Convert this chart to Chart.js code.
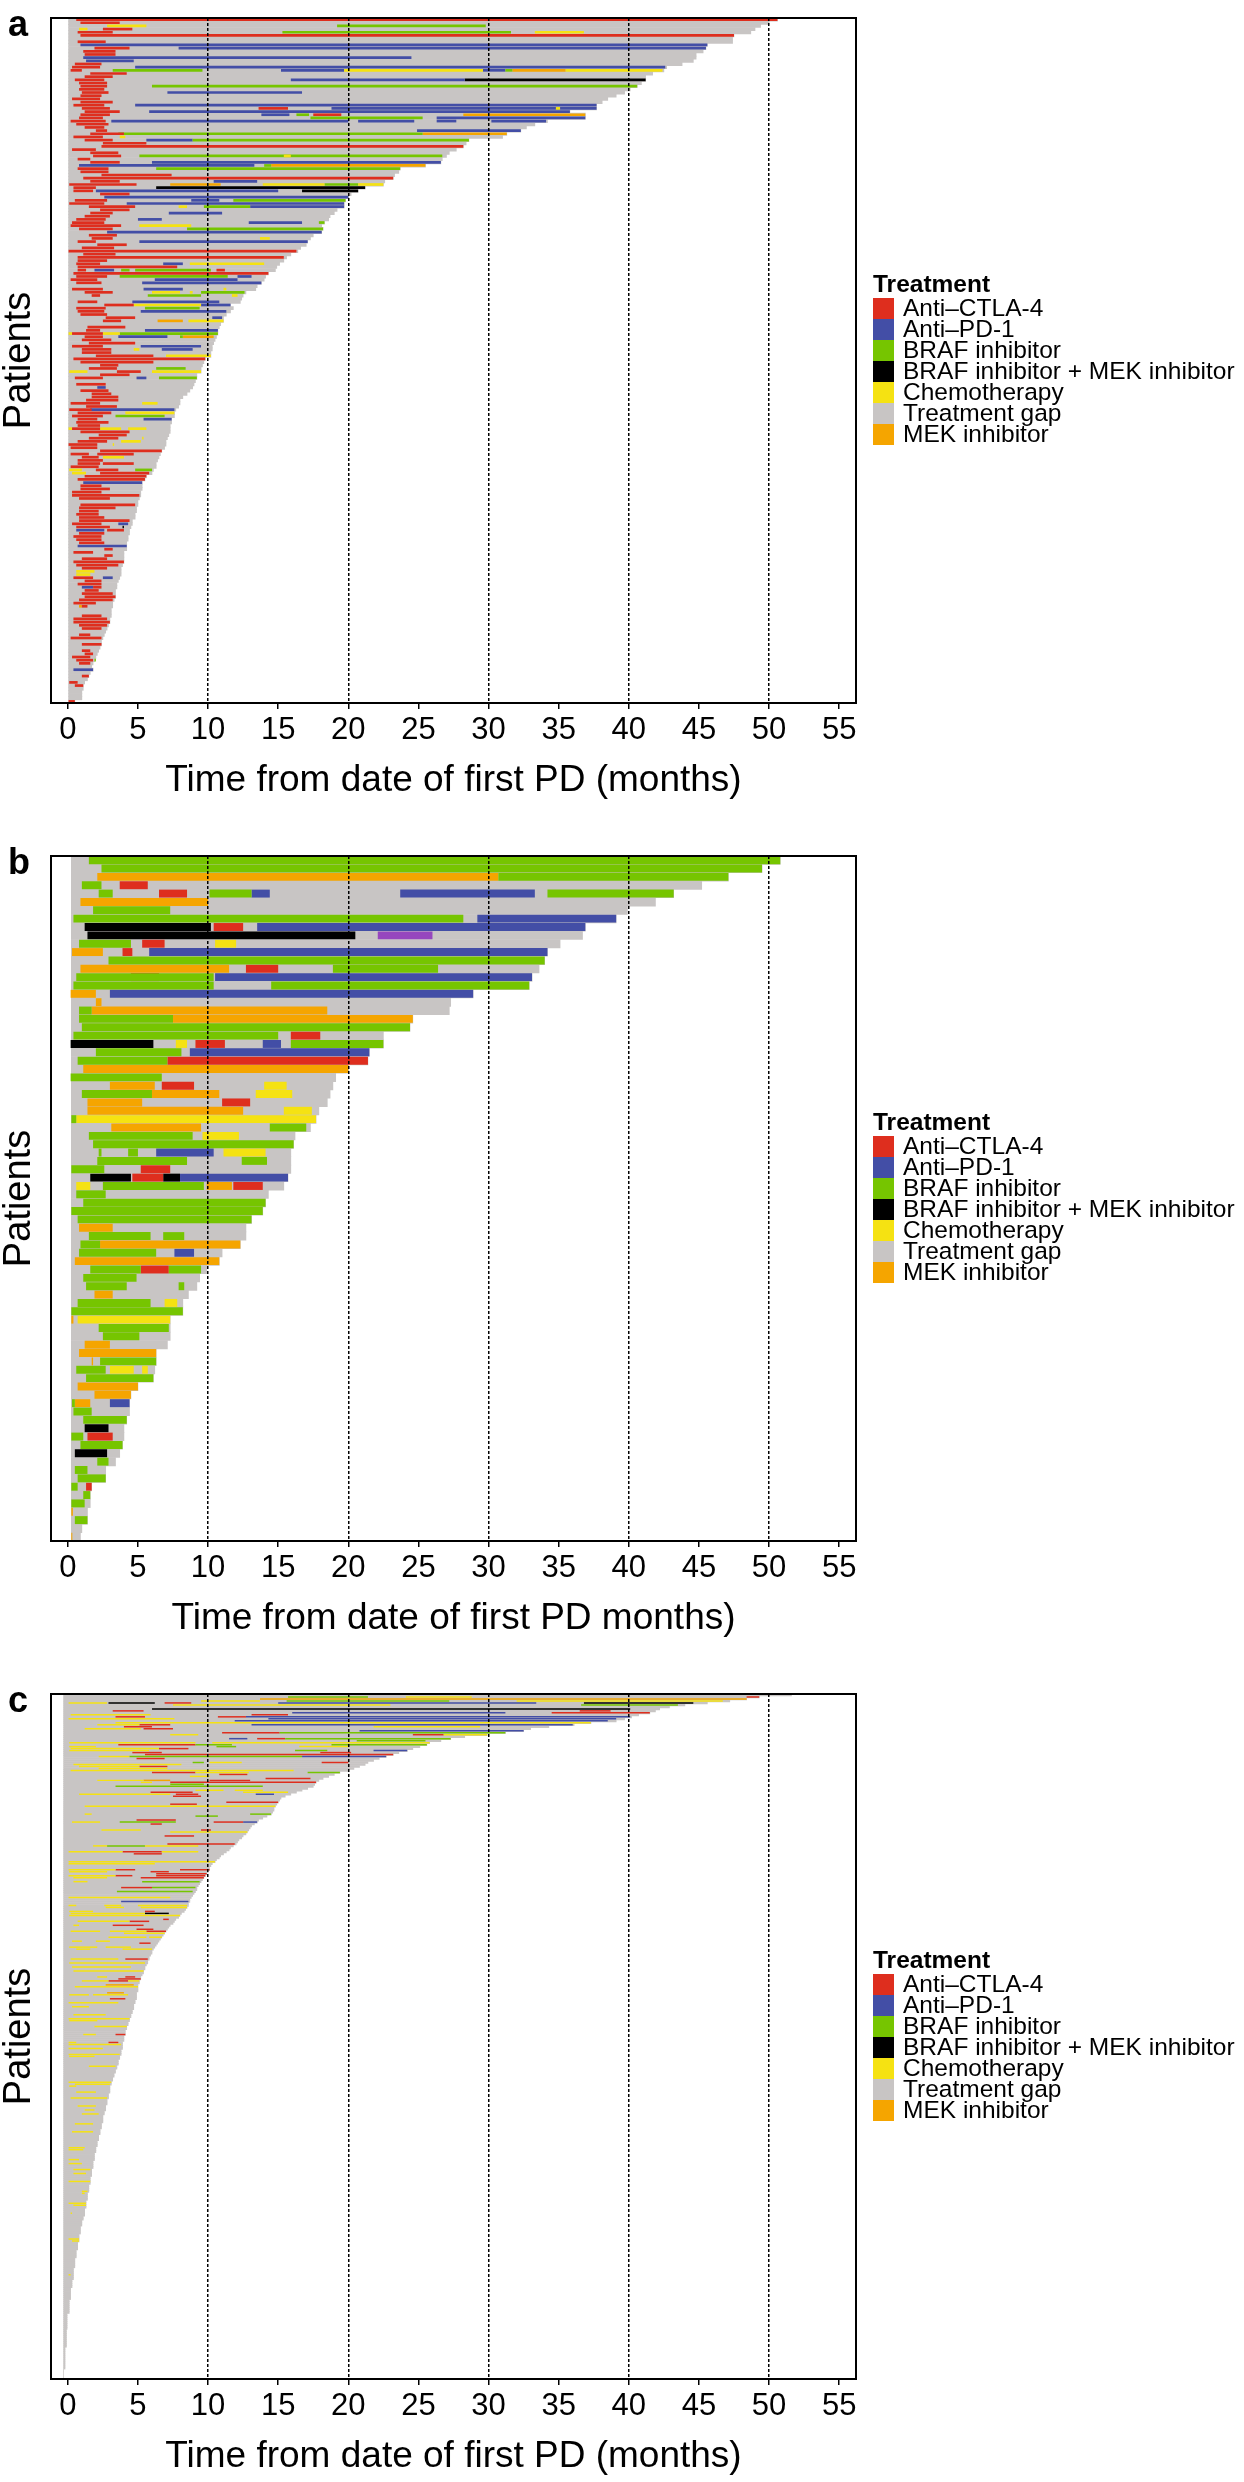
<!DOCTYPE html>
<html>
<head>
<meta charset="utf-8">
<script src="https://cdn.jsdelivr.net/npm/chart.js@4.4.1/dist/chart.umd.min.js"></script>
<style>
  body { margin: 0; background: #fff; }
  #page { position: relative; width: 1244px; height: 2482px; overflow: hidden;
          font-family: 'Liberation Sans', Arial, sans-serif; color: #000; }
  .panel { position: absolute; left: 0; width: 1244px; height: 838px; }
  .panel canvas { position: absolute; left: 0; top: 0; }
  .tag { position: absolute; left: 8px; top: 6px; font-weight: bold; font-size: 36px; line-height: 36px; }
  .legend { position: absolute; left: 873px; top: 273px; }
  .legend .ttl { font-weight: bold; font-size: 24.5px; line-height: 21px; height: 25px; }
  .legend .row { display: flex; height: 21px; font-size: 24.5px; line-height: 21px; }
  .legend .sw { width: 21px; height: 21px; margin-right: 9px; flex: none; }
  .legend .lbl { position: relative; top: -1px; white-space: nowrap; }
</style>
</head>
<body>
<div id="page"></div>
<script>
// treatment codes: C anti-CTLA-4, P anti-PD-1, B BRAFi, K BRAFi+MEKi, H chemo, G gap, M MEKi, V other
const TREATMENTS = ['Anti–CTLA-4', 'Anti–PD-1', 'BRAF inhibitor', 'BRAF inhibitor + MEK inhibitor',
                    'Chemotherapy', 'Treatment gap', 'MEK inhibitor'];
const LEGEND_CODES = ['C', 'P', 'B', 'K', 'H', 'G', 'M'];
const COLORS = { C: '#DE2E1E', P: '#434EA6', B: '#76C500', K: '#000000', H: '#F5E212',
                 G: '#C8C5C4', M: '#F5A500', V: '#9646BE' };
const X_TICKS = [0, 5, 10, 15, 20, 25, 30, 35, 40, 45, 50, 55];
const DASHED_AT = [10, 20, 30, 40, 50];

// panel a: "total seg seg ..." , seg = code start:end (months)
const A_ROWS = [
  '50.6 C0.6:50.6', '50.0 C0.9:3.7', '49.4 H2.8:5.6 B19.2:29.8', '49.0 H0.8:1.4 C2.5:4.6',
  '48.7 C0.7:3.2 B15.3:31.6 H33.3:36.8', '47.5 C0.9:47.5', '47.4', '47.4 C0.7:2.7',
  '45.6 P0.9:45.6', '45.5 C1.9:4.4 P7.9:45.5', '45.3 C1.1:3.4', '44.8 C1.2:3.4',
  '44.8 P1.1:24.5', '44.6 P1.3:4.7', '43.8 C0.5:2.4', '42.7 C0.3:2.3 P4.8:42.6',
  '42.5 C0.2:1.0 B3.2:9.6 P15.2:19.7 H19.7:29.6 P29.6:31.2 B31.2:31.7 M31.7:35.5 H35.5:42.4',
  '41.7 C1.6:4.2', '41.2 C1.2:3.2', '41.2 C0.5:2.6 P15.9:28.3 K28.3:41.2', '40.9 C0.8:2.8',
  '40.6 C0.9:2.8 B6.0:40.6', '40.1 C0.8:2.6', '39.7 C1.0:2.9 P7.1:16.7', '39.1 C0.9:2.4',
  '38.5 C0.3:2.3', '38.1 C0.9:3.2', '37.7 C0.4:2.6 P4.8:37.7',
  '37.7 C1.0:3.0 C13.6:15.7 P18.8:37.7 H34.8:35.1', '35.8 C1.2:3.7 P5.8:35.8',
  '36.9 C0.9:3.0 P13.8:15.8 B16.3:17.2 C17.5:19.5 M28.2:36.9', '36.9 C0.8:2.5 B17.3:25.3 P26.3:36.9',
  '34.2 C0.2:2.7 P3.1:20.0 P20.7:24.7 P26.3:27.7 P30.2:34.1', '33.3 C0.6:2.9', '32.7 C1.2:2.6',
  '32.3 C2.0:2.8 P24.9:32.3', '31.3 C1.6:4.0 B3.6:25.3 M25.3:31.3', '31.0 C0.4:2.5 H3.7:4.1',
  '28.6 C1.2:3.2 P5.6:8.9 B8.9:28.6', '28.4 C2.5:5.6', '28.2 C2.4:28.2', '27.7 C0.3:2.0',
  '27.2 C1.6:3.6', '27.0 C1.8:3.8 B5.1:26.7 H15.4:15.9', '26.7 C0.7:1.6', '26.6 C1.6:3.7 P6.0:26.6',
  '25.5 P0.8:13.3 B14.0:14.5 M14.5:25.5', '23.7 C0.7:2.9 B6.3:23.7', '23.6 C0.9:2.9', '23.3 C2.4:7.4',
  '23.2 C1.1:23.2', '22.6 C1.6:3.7 P10.4:13.5', '22.5 C0.1:4.9 M7.3:10.9 H13.9:18.3 B18.3:20.7 H20.7:22.5',
  '21.2 C0.4:2.0 K6.3:21.2', '20.7 C0.4:1.8 P2.0:15.0 K16.7:20.7', '20.2 C2.3:4.4', '20.0 P2.6:20.0',
  '19.8 C0.5:2.8 P8.8:10.8 B11.8:19.8', '19.7 C0.1:2.6 P4.2:19.7', '19.7 C1.5:4.8 H7.9:8.5 B9.7:13.0 P13.0:19.7',
  '19.2 C2.3:4.4', '19.0 C1.6:3.2 P7.2:11.0', '18.7 C1.2:3.0', '18.6 C0.6:2.7 P5.0:6.7',
  '18.3 C0.3:2.6 P12.9:16.7 B17.9:18.3', '18.1 C0.2:3.8 H5.1:8.8', '18.2 C0.8:3.2 B8.5:18.2',
  '18.1 P2.8:18.1', '17.5 C1.5:3.5', '17.3 C1.7:3.2 H13.7:14.4', '17.1 C0.7:2.0 P5.1:17.1', '17.0 C2.1:4.2',
  '16.6 C1.0:3.3', '16.4 C0:16.3', '15.9 C1.1:3.4', '15.6 C0.7:15.4', '15.4 C0.7:2.8',
  '15.1 C0.6:2.3 P6.8:8.2 H8.7:14.0', '14.9 C0.7:7.8', '14.8 C0.7:1.3 P1.9:3.3 B3.8:4.4 B4.8:10.2 C10.6:11.2',
  '14.3 C0.4:14.3', '14.1 C0.6:2.8 B3.7:11.4 P12.1:13.1', '14.0 C0.2:2.1 P6.2:12.1', '13.8 C0.6:2.4 P5.3:13.8',
  '13.5', '13.4 C0.3:2.5 P5.4:8.2 H11.1:11.3', '12.7 C1.2:3.2 H6.0:8.0 H8.7:8.9 B9.5:12.6',
  '12.5 C1.7:2.3 B5.7:9.5 H11.7:12.1', '12.4', '12.3 C0.7:2.1 P4.6:10.8', '11.6 C2.6:4.7 H4.7:9.5 P9.5:11.6',
  '11.8 C0.6:2.7 B5.5:9.4', '11.6 C0.7:2.6 P5.2:11.3', '11.3 C0.9:2.8', '11.1 C2.7:4.8 P10.3:11.0',
  '11.1 C2.5:3.8 M6.4:8.2 H8.6:11.1', '10.9', '10.8 C1.4:4.1', '10.7 C1.3:2.3 P5.5:10.7',
  '10.7 H0:0.3 C0.3:2.5 H2.5:3.7 B3.7:10.7', '10.6 C1.2:2.5 P3.6:7.1 B8.0:8.2 M8.2:10.4', '10.5 C1.0:3.1',
  '10.4 C1.5:4.8', '10.3 C0.3:2.5 P5.2:9.5', '10.3 C1.0:3.1 H4.7:5.1 P6.7:8.9', '10.2 C1.0:3.1',
  '10.2 C2.0:6.1 H7.0:10.2', '9.8 C0.4:9.8', '9.7 C0.9:6.1', '9.6 C2.3:3.6', '9.5 C1.5:3.5 B6.3:8.4',
  '9.5 H0.1:1.4 C3.5:5.2 H6.0:9.5', '9.2 C2.3:4.4', '9.2 C0.5:2.5 P4.9:5.6 B6.5:9.2', '9.1', '9.0 C0.6:2.7',
  '8.9 P2.1:2.7', '8.7 C0.9:2.9', '8.5 C1.7:3.1', '8.2 C1.7:3.6', '8.0 C1.3:3.6', '8.0 C0.2:2.3 H5.3:6.4',
  '7.9 C1.3:3.5', '7.7 C0.1:1.7 P1.6:7.6', '7.6 C0.7:3.1 H4.1:7.6', '7.6 C0.3:2.5 B3.4:6.9',
  '7.4 C0.7:2.1 P5.4:7.4', '7.4 C0.6:2.9', '7.3 C0.7:2.3', '7.3 H0:0.3 C0.3:2.3 H2.3:3.8 H4.3:5.6',
  '7.3 C0.9:4.4', '7.2 C2.2:4.2', '7.1 C1.5:3.6 H5.3:5.4', '7.0 C0.7:2.8 H3.8:5.2', '7.0 C0:2.1 H3.2:3.3',
  '6.9 C0.2:2.1', '6.7 C2.3:6.7', '6.6 C0.2:1.5 C2.1:4.7', '6.5 C1.0:2.2 H2.5:4.0', '6.4 C0.7:2.5',
  '6.3 C0.7:2.3 C2.5:4.7', '6.3 C0.2:2.2', '6.1 H0.1:1.0 C2.0:3.6 B4.8:6.0', '6.0 H0.3:1.3 C2.3:5.8',
  '5.6 C1.2:5.6', '5.5 C0.7:5.5', '5.3 P1.1:5.3', '5.3 C0.9:2.4', '5.3 C0.9:3.0', '5.2 C0.3:2.4',
  '5.2 C0.3:5.1', '5.1 C0.8:3.0', '5.0', '5.0 C0.9:4.8', '4.9 C0.8:3.4', '4.9 C0.8:2.2', '4.8 C0.6:2.2',
  '4.8 C0.8:2.6', '4.6 C0.8:4.4', '4.6 C0.3:2.4 P3.6:4.3', '4.5 C0.6:3.0 K3.9:4.0', '4.4 P0.6:2.6 C2.8:4.0',
  '4.4 C0.8:2.6', '4.3 C0.4:2.4', '4.3 C0.6:2.4', '4.2 C0.8:2.6', '4.2 P0.7:4.2', '4.2 C2.6:3.2',
  '4.0 C0.4:1.8', '4.0 C2.6:3.2', '4.0 C1.0:2.8', '4.0 C0.4:4.0', '3.9 C0.6:3.6', '3.8 C1.0:2.8',
  '3.8 H0.6:1.9', '3.8 H0.6:1.6', '3.7 C0.4:1.8 P2.5:3.2', '3.6 C1.2:2.4', '3.5 C0.7:2.4',
  '3.5 P1.0:1.8 C1.8:2.4', '3.4 C1.2:2.2', '3.4 C1.0:3.2', '3.4 C1.2:3.4', '3.3 C0.8:3.2', '3.2 C0.4:2.0',
  '3.2 M0.8:1.0 C1.0:1.4', '3.1', '3.1', '3.1 C1.0:2.4', '3.0 C0.4:2.8', '3.0 C0.4:3.0', '2.9 C0.8:2.8',
  '2.8 C1.0:2.4', '2.7', '2.6 C0.8:1.6', '2.5 C0.2:2.4', '2.4', '2.4 C1.0:2.4', '2.3', '2.2 C1.0:1.6',
  '2.1 C1.2:1.8', '2.0 C0.3:1.6', '1.9 C0.6:1.8 B1.9:2.0', '1.8 C0.8:1.6', '1.7', '1.8 P0.4:1.8', '1.6',
  '1.5 C1.0:1.5', '1.4', '1.2 C0.1:0.7', '1.1 C0.5:1.1', '1.1', '1.0', '1.0', '1.0', '0.5 C0:0.5'
];

// panel b
const B_ROWS = [
  '50.8 B1.5:50.8', '49.5 B2.4:49.5', '47.1 M2.1:30.7 B30.7:47.1', '45.2 B1.0:2.4 C3.7:5.7',
  '43.2 B2.2:3.2 C6.5:8.5 B10.1:13.1 P13.1:14.4 P23.7:33.3 B34.2:43.2', '41.9 M0.9:10.0', '39.9 B1.8:7.3',
  '39.1 B0.4:28.2 P29.2:39.1', '36.9 K1.2:10.2 C10.4:12.5 P13.5:36.9', '36.7 K1.4:20.5 V22.1:26.0',
  '35.1 B0.8:4.5 C5.3:6.9 H10.5:12.0', '34.2 M0.3:2.5 C3.9:4.6 P5.8:34.2', '34.0 B2.9:34.0',
  '33.6 M0.9:11.5 C12.7:15.0 B18.9:26.4', '33.1 B0.6:10.4 C4.5:6.5 P10.5:33.1', '32.9 B0.4:10.4 B14.5:32.9',
  '28.9 M0.2:2.0 P3.0:28.9', '27.3 M2.0:2.4', '27.2 B0.8:1.7 M1.7:18.5', '24.6 B0.8:7.5 M7.5:24.6',
  '24.4 B1.0:24.4', '22.5 B0.4:15.0 C15.9:18.0', '22.5 K0.2:6.1 H7.7:8.5 C9.1:11.2 P13.9:15.2 B15.9:22.5',
  '21.5 B2.0:8.1 P8.7:21.5', '21.4 B0.7:7.1 C7.1:21.4', '20.0 M1.1:20.0', '19.1 B0.2:6.7',
  '18.9 M3.0:6.2 C6.7:9.0 H14.0:15.6', '18.7 B1.0:6.0 M6.0:10.8 H13.4:16.0', '18.5 M1.4:5.3 C11.0:13.0',
  '17.9 M1.4:12.5 H15.4:17.4', '17.7 B0.25:0.6 H0.6:17.7', '17.3 M3.1:9.5 B14.4:17.0', '16.2 B1.5:8.9 H9.6:12.2',
  '16.1 B1.8:16.1', '15.9 B2.2:2.4 B4.3:5.0 P6.3:10.4 H11.1:14.1', '15.9 B2.1:8.5 B12.4:14.2',
  '15.9 B0.25:2.6 C5.2:7.3', '15.7 K1.6:4.5 C4.6:6.8 K6.8:8.0 P8.0:15.7',
  '15.4 H0.6:1.6 B2.5:9.7 M9.9:11.7 C11.8:13.9', '14.3 B0.6:2.7', '14.1 B1.1:14.1', '13.9 B0.25:13.9',
  '13.1 B0.7:13.1', '12.7 M0.8:3.2', '12.7 B1.5:5.9 B6.8:8.3', '12.3 B0.9:2.3 M2.3:12.3', '11.0 B0.8:6.3 P7.6:9.0',
  '10.8 M0.5:10.8', '9.9 B1.6:5.2 C5.2:7.2 B7.2:9.5', '9.4 B1.1:4.9', '9.2 B1.3:4.2 B7.9:8.3', '8.6 M1.9:3.2',
  '8.2 B0.7:5.9 H6.9:7.8', '8.2 B0.25:8.2', '7.3 M0.25:0.4 H0.7:7.3', '7.3 B2.2:7.2', '7.3 B2.5:5.1',
  '7.1 M1.2:3.0', '6.3 M0.8:6.3', '6.3 M1.7:1.8 B2.3:6.3', '6.2 B0.6:2.7 H3.0:4.7 H5.3:5.7', '6.1 B1.3:6.1',
  '5.0 M0.7:5.0', '4.5 M1.9:4.5', '4.4 B0.3:0.5 M0.5:1.6 P3.0:4.4', '4.4 B0.4:1.7', '4.2 B1.1:4.2',
  '4.0 K1.2:2.9', '4.0 B0.25:1.1 C1.4:3.2', '3.9 B0.9:3.9', '3.7 K0.5:2.8', '3.4 B2.1:2.9', '2.7 B0.5:1.4',
  '2.7 B0.7:2.7', '1.7 B0.25:0.7 C1.3:1.7', '1.6 B1.1:1.6', '1.6 B0.25:1.2', '1.4 M0.25:0.36', '1.4 B0.5:1.4',
  '1.0', '0.9 M0.25:0.32'
];

// panel c: end of each patient's follow-up, top to bottom
const C_TOTALS = [
  51.6,49.3,48.4,47.2,45.6,44.0,42.9,42.2,41.9,41.5, 40.7,40.2,39.7,39.1,37.3,36.1,34.3,33.0,32.5,31.2,
  29.9,28.3,27.3,26.6,25.8,25.6,25.1,24.6,24.2,23.6, 23.2,22.7,22.2,21.8,21.4,21.2,20.8,20.4,20.0,19.4,
  19.0,18.6,18.2,17.9,17.7,17.6,17.5,17.1,16.7,16.3, 15.9,15.5,15.2,15.1,15.0,14.9,14.8,14.7,14.7,14.6,
  14.5,14.2,13.9,13.6,13.5,13.3,13.1,13.0,12.9,12.8, 12.7,12.5,12.4,12.2,12.1,12.0,11.8,11.6,11.5,11.3,
  11.1,10.9,10.8,10.6,10.5,10.3,10.2,10.1,10.1,10.0, 9.9,9.8,9.7,9.6,9.5,9.4,9.3,9.2,9.2,9.1,
  9.0,8.9,8.8,8.7,8.7,8.6,8.6,8.5,8.4,8.3, 8.1,8.0,7.9,7.7,7.6,7.5,7.3,7.2,7.1,7.0,
  6.9,6.8,6.7,6.6,6.5,6.4,6.3,6.2,6.1,6.0, 6.0,5.9,5.8,5.8,5.7,5.7,5.6,5.5,5.5,5.4,
  5.4,5.3,5.2,5.2,5.1,5.1,5.0,5.0,5.0,5.0, 4.9,4.9,4.9,4.9,4.8,4.8,4.7,4.7,4.7,4.6,
  4.6,4.5,4.5,4.4,4.4,4.3,4.3,4.2,4.2,4.1, 4.1,4.1,4.0,4.0,4.0,3.9,3.9,3.9,3.9,3.8,
  3.8,3.8,3.7,3.7,3.6,3.6,3.6,3.5,3.5,3.4, 3.4,3.3,3.3,3.2,3.2,3.1,3.1,3.0,3.0,3.0,
  3.0,2.9,2.9,2.9,2.8,2.8,2.8,2.7,2.7,2.7, 2.6,2.6,2.5,2.5,2.5,2.5,2.4,2.4,2.4,2.3,
  2.3,2.3,2.2,2.2,2.2,2.1,2.1,2.1,2.0,2.0, 2.0,1.9,1.9,1.9,1.9,1.8,1.8,1.8,1.8,1.7,
  1.7,1.7,1.7,1.6,1.6,1.6,1.6,1.5,1.5,1.5, 1.5,1.4,1.4,1.4,1.4,1.3,1.3,1.3,1.3,1.2,
  1.2,1.2,1.2,1.1,1.1,1.0,1.0,1.0,0.9,0.9, 0.9,0.9,0.8,0.8,0.8,0.8,0.7,0.7,0.7,0.7,
  0.6,0.6,0.6,0.6,0.5,0.5,0.5,0.5,0.5,0.4, 0.4,0.4,0.4,0.4,0.4,0.3,0.3,0.3,0.3,0.2,
  0.2,0.2,0.2,0.2,0.2,0.1,0.1,0.1,0.1,0.1, 0.1,0.1,0,0,0,0,0,0,0,0,
  -0.1,-0.1,-0.1,-0.1,-0.1,-0.1,-0.1,-0.1,-0.1,-0.2, -0.2,-0.2,-0.2,-0.2,-0.2,-0.2,-0.2,-0.2,-0.2,-0.2,
  -0.3,-0.3,-0.3,-0.3,-0.3
];
// panel c treatments: "row seg seg ..."
const C_SEGS = [
  '1 B15.7:21.4 H24.1:28.8 C48.4:49.3', '2 M13.7:48.4', '3 H9.5:13.7 B15.6:27.2 H32.0:46.7',
  '4 H0:2.8 K2.9:6.2 C6.9:8.8 P15.0:33.4 K36.8:44.6', '5 H7.5:23.0 B36.6:43.5', '7 K6.0:40.1',
  '8 C3.2:5.4 C36.5:38.7', '9 P16.0:31.2 C34.5:41.5', '10 H0.2:5.9 C13.1:15.7',
  '11 C3.4:5.5 C10.7:12.7 P12.7:40.1', '12 H0:7.6 P14.3:39.1', '13 P11.9:38.5', '14 H3.4:37.3',
  '15 H2.1:5.1 C5.1:7.3 P13.1:36.0', '16 C4.0:6.0 H21.8:29.4', '17 H1.2:5.2 C5.4:7.5', '18 P20.8:32.5',
  '19 C11.0:15.1 B15.1:31.2', '20 H7.3:9.3 C24.6:26.8 H26.8:29.9', '22 P11.5:12.8 C13.5:15.5 B15.5:27.3',
  '23 B20.6:25.5', '24 H0.1:9.1 H10.3:25.8', '25 C3.6:9.1 B9.1:11.7 B18.8:25.6',
  '26 H0.1:2.0 B10.6:12.0 H16.5:20.0', '27 H0.2:6.5 C6.5:8.6', '28 H0.1:5.8 B16.2:18.5 P21.8:24.2',
  '29 C4.6:6.7 C18.0:20.2', '30 C5.5:23.2', '31 H2.2:4.4 B4.4:16.7 P16.7:22.7', '32 C4.9:6.9',
  '34 B8.9:9.7 H10.1:12.4 C18.1:20.0', '35 H0.4:8.1', '36 H0.8:5.1 C5.1:7.1', '37 H2.2:7.1', '38 H0.2:16.1',
  '39 C6.0:9.1 H9.1:12.9 B17.1:19.4', '40 C10.8:12.8', '41 H8.7:10.1', '42 C14.1:17.3',
  '43 H2.1:5.4 M5.4:7.3 C10.1:13.0', '44 H5.2:6.0 C7.3:17.7', '45 B7.3:9.7', '46 B3.4:13.9',
  '48 H9.1:11.1 H11.9:13.9', '49 C5.9:8.9 H12.5:15.7', '50 H0.8:7.3 C7.7:9.3 P13.4:14.7', '51 C7.5:9.5',
  '54 C11.3:15.0', '55 C7.3:9.2', '56 H1.2:14.8', '60 H1.2:1.7 B13.0:14.5', '61 B9.1:10.7', '63 C4.9:7.7',
  '64 H0.3:2.3 B3.7:7.7 C10.4:12.5 P12.5:13.5', '65 C5.9:6.7', '68 H2.4:5.2 C9.5:10.2', '69 H7.3:12.8',
  '71 C6.9:9.0', '75 C7.1:11.9', '76 H1.8:2.8 B2.8:5.5 H5.5:9.3', '79 H0:3.9 C3.9:6.7 H6.7:9.3',
  '80 C4.7:6.7', '84 H0:10.5', '85 H0:6.2', '88 H0:3.4 C3.4:4.8 C8.0:10.1', '89 H0.1:2.8 C5.9:7.2',
  '90 C6.3:9.9', '91 H0:3.4 C3.4:4.6 C6.3:9.8', '92 H0.4:2.8 C5.2:9.7', '94 H0.4:1.4 B5.3:9.4',
  '97 C3.8:6.0 B6.0:9.1', '99 B3.5:8.9', '102 H0:7.3', '104 P3.8:8.6', '106 H0:0.6 H2.6:3.8 H5.0:8.5',
  '107 H2.7:4.0 H5.2:8.5', '109 H0.1:1.8 C5.5:6.2', '110 H0.2:5.5 K5.5:7.2', '111 H0.1:8.0', '113 C6.8:7.2',
  '114 H0.7:4.4 C4.4:5.8', '116 H0.4:0.8 C3.2:5.4', '118 C4.9:6.1', '119 H0.2:2.3 H3.0:5.6 C5.6:7.0',
  '120 H4.0:6.9', '122 H2.9:5.6 H5.8:6.7', '124 H0.3:1.0 H2.0:3.0', '125 C5.1:5.9', '127 H0.1:2.1 H2.7:4.5',
  '128 H0.6:1.6 H3.9:6.0', '133 H0.2:3.6 C4.1:5.7', '135 H0.1:5.5', '137 H0.3:4.5', '139 H0.4:5.4',
  '142 H2.1:2.8 C4.1:4.8', '143 C3.6:5.2', '144 H1.0:2.9 C2.9:4.3 H4.3:5.1', '146 M2.7:4.7', '147 H0.5:5.0',
  '150 M2.8:4.0', '151 H0.1:1.5 H1.8:4.3', '153 C3.0:4.1', '155 H0:3.6', '157 H0.3:1.5', '161 H0.4:2.7',
  '163 H0:4.4', '164 H0.1:2.1', '167 H1.9:4.2', '171 H1.1:2.0 C3.4:4.1', '175 H0:0.6 C2.9:3.6', '176 H0:3.8',
  '178 H0:2.5', '181 H0:3.7', '182 H0.1:1.9', '187 H1.5:3.4', '195 H0:3.1', '196 H0.5:3.0', '197 H0.1:0.6',
  '200 H0.6:2.0', '203 H0.2:2.8', '207 H0.7:2.0', '209 H1.2:1.9', '211 H1.0:2.2', '216 H0.5:1.8',
  '220 H0.3:1.8', '228 H0:1.2', '229 H0:1.1', '234 H0:0.8', '236 H0:1.0', '239 H0.4:1.6', '241 H0.4:1.3',
  '245 H0:1.6', '250 H1.0:1.4', '251 H1.0:1.2', '256 H0:1.3', '257 H0.4:1.3', '261 H0.2:0.3',
  '274 H0:0.8', '275 H0.3:0.8', '292 H0:0.2'
];

const FONT = "'Liberation Sans', Arial, sans-serif";
Chart.defaults.font.family = FONT;
Chart.defaults.color = '#000';

function parseSeg(tok) {
  const [s, e] = tok.slice(1).split(':').map(Number);
  return { code: tok[0], s, e };
}
function parseRows(list) {
  return list.map(str => {
    const t = str.trim().split(/\s+/);
    return { total: parseFloat(t[0]), segs: t.slice(1).map(parseSeg) };
  });
}
const rowsA = parseRows(A_ROWS);
const rowsB = parseRows(B_ROWS);
const rowsC = C_TOTALS.map(t => ({ total: t, segs: [] }));
C_SEGS.forEach(str => {
  const t = str.split(' ');
  rowsC[+t[0]].segs.push(...t.slice(1).map(parseSeg));
});

const framePlugin = {
  id: 'frame',
  afterDraw(chart) {
    const { ctx, chartArea: a } = chart;
    ctx.save();
    ctx.strokeStyle = '#000';
    ctx.lineWidth = 2;
    ctx.strokeRect(a.left, a.top, a.right - a.left, a.bottom - a.top);
    ctx.restore();
  }
};

function buildPanel(top, letter, rows, gapStart, barPct, xTitle) {
  const page = document.getElementById('page');
  const panel = document.createElement('div');
  panel.className = 'panel';
  panel.style.top = top + 'px';
  const canvas = document.createElement('canvas');
  canvas.width = 880; canvas.height = 838;
  panel.appendChild(canvas);
  const tag = document.createElement('div');
  tag.className = 'tag';
  tag.textContent = letter;
  panel.appendChild(tag);

  const legend = document.createElement('div');
  legend.className = 'legend';
  legend.innerHTML = '<div class="ttl">Treatment</div>' + LEGEND_CODES.map((c, i) =>
    '<div class="row"><span class="sw" style="background:' + COLORS[c] + '"></span><span class="lbl">' +
    TREATMENTS[i] + '</span></div>').join('');
  panel.appendChild(legend);
  page.appendChild(panel);

  const labels = rows.map((r, i) => String(i + 1));
  const byCode = {};
  rows.forEach((r, i) => r.segs.forEach(g => {
    (byCode[g.code] = byCode[g.code] || []).push({ y: labels[i], x: [g.s, g.e] });
  }));
  const datasets = Object.keys(byCode).map(code => ({
    label: code, data: byCode[code], backgroundColor: COLORS[code],
    barPercentage: barPct, categoryPercentage: 1, grouped: false, order: 1
  }));
  datasets.push({
    label: 'G', data: rows.map((r, i) => ({ y: labels[i], x: [gapStart, Math.max(r.total, gapStart)] })),
    backgroundColor: COLORS.G, barPercentage: 1, categoryPercentage: 1, grouped: false, order: 2
  });

  new Chart(canvas, {
    type: 'bar',
    data: { labels, datasets },
    options: {
      indexAxis: 'y',
      responsive: false,
      animation: false,
      devicePixelRatio: 1,
      events: [],
      layout: { padding: { top: 18, right: 24, bottom: 39, left: 0 } },
      plugins: { legend: { display: false }, tooltip: { enabled: false } },
      scales: {
        x: {
          type: 'linear', min: -1.2, max: 56.2,
          afterBuildTicks: s => { s.ticks = X_TICKS.map(v => ({ value: v })); },
          ticks: { autoSkip: false, maxRotation: 0, padding: 6, color: '#000', font: { size: 31, lineHeight: 1 } },
          grid: {
            z: 1, lineWidth: 1.5, drawTicks: true, tickLength: 6, tickColor: '#000', tickWidth: 1.5,
            color: c => (c.tick && DASHED_AT.includes(c.tick.value)) ? '#000' : 'rgba(0,0,0,0)'
          },
          border: { display: false, dash: [3, 2] },
          title: { display: true, text: xTitle, color: '#000', font: { size: 37, lineHeight: 1 },
                   padding: { top: 10, bottom: 0 } }
        },
        y: {
          grid: { display: false, drawTicks: false },
          border: { display: false },
          ticks: { display: false },
          title: { display: true, text: 'Patients', color: '#000', font: { size: 38, lineHeight: 1 },
                   padding: { top: 1, bottom: 12 } }
        }
      }
    },
    plugins: [framePlugin]
  });
}

buildPanel(0, 'a', rowsA, 0, 0.85, 'Time from date of first PD (months)');
buildPanel(838, 'b', rowsB, 0.25, 0.95, 'Time from date of first PD months)');
buildPanel(1676, 'c', rowsC, -0.3, 0.75, 'Time from date of first PD (months)');
</script>
</body>
</html>
